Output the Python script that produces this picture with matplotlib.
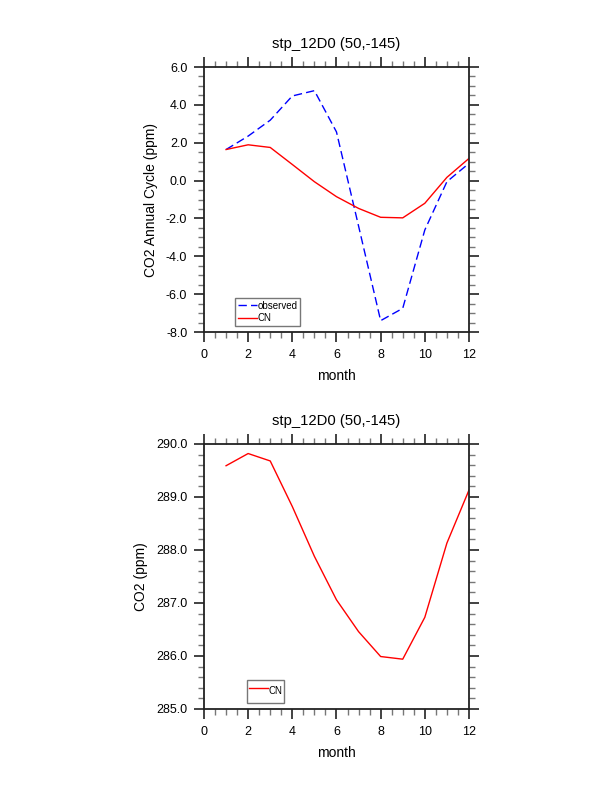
import matplotlib
matplotlib.use("Agg")
import matplotlib.pyplot as plt
from matplotlib.ticker import MultipleLocator, FormatStrFormatter

plt.rcParams["font.family"] = ["Liberation Sans", "DejaVu Sans"]

months = [1, 2, 3, 4, 5, 6, 7, 8, 9, 10, 11, 12]
observed = [1.64, 2.35, 3.19, 4.47, 4.75, 2.57, -2.40, -7.40, -6.75, -2.61, -0.06, 0.91]
cn_cycle = [1.64, 1.89, 1.75, 0.85, -0.06, -0.85, -1.47, -1.94, -1.97, -1.20, 0.17, 1.17]
cn_co2 = [289.59, 289.82, 289.68, 288.82, 287.88, 287.06, 286.46, 285.99, 285.94, 286.73, 288.13, 289.13]

title = "stp_12D0 (50,-145)"

fig = plt.figure(figsize=(6.12, 7.92), dpi=100)

ax1 = fig.add_axes([0.3333, 0.5808, 0.4330, 0.3346])
ax2 = fig.add_axes([0.3333, 0.1048, 0.4330, 0.3346])


def style_axes(ax, ymaj, ymin):
    ax.set_xlim(0, 12)
    ax.xaxis.set_major_locator(MultipleLocator(2))
    ax.xaxis.set_minor_locator(MultipleLocator(0.5))
    ax.yaxis.set_major_locator(MultipleLocator(ymaj))
    ax.yaxis.set_minor_locator(MultipleLocator(ymin))
    ax.yaxis.set_major_formatter(FormatStrFormatter("%.1f"))
    ax.tick_params(which="both", direction="out", top=True, right=True,
                   labeltop=False, labelright=False, color="#222222")
    ax.tick_params(which="major", length=7, width=1.2, labelsize=9, pad=5)
    ax.tick_params(which="minor", length=4, width=1.0, color="#777777")
    for sp in ax.spines.values():
        sp.set_linewidth(1.3)
        sp.set_color("#222222")
    ax.set_xlabel("month", fontsize=10, labelpad=6)
    ax.set_title(title, fontsize=10.7, pad=14)


# top panel: annual cycle
ax1.plot(months, observed, color="blue", lw=1.0, dashes=(6, 3), label="observed")
ax1.plot(months, cn_cycle, color="red", lw=1.0, label="CN")
ax1.set_ylim(-8, 6)
style_axes(ax1, 2, 0.5)
ax1.set_ylabel("CO2 Annual Cycle (ppm)", fontsize=10, labelpad=6)
leg1 = ax1.legend(loc="lower left", bbox_to_anchor=(0.117, 0.0226), borderaxespad=0,
                  fontsize=7, frameon=True, fancybox=False, handlelength=2.0,
                  handletextpad=0.0, borderpad=0.3, labelspacing=0.25)
leg1.get_frame().set_edgecolor("#555555")
leg1.get_frame().set_linewidth(1.0)

# bottom panel: CO2
ax2.plot(months, cn_co2, color="red", lw=1.0, label="CN")
ax2.set_ylim(285, 290)
style_axes(ax2, 1, 0.2)
ax2.set_ylabel("CO2 (ppm)", fontsize=10, labelpad=6)
leg2 = ax2.legend(loc="lower left", bbox_to_anchor=(0.162, 0.0226), borderaxespad=0,
                  fontsize=7, frameon=True, fancybox=False, handlelength=2.0,
                  handleheight=2.7, handletextpad=0.0, borderpad=0.2)
leg2.get_frame().set_edgecolor("#555555")
leg2.get_frame().set_linewidth(1.0)

fig.savefig("out.png", dpi=100)
